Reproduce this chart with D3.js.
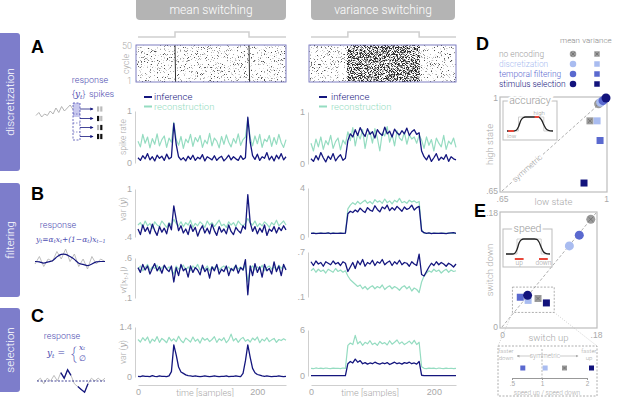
<!DOCTYPE html>
<html>
<head>
<meta charset="utf-8">
<script src="https://cdn.jsdelivr.net/npm/d3@7/dist/d3.min.js"></script>
<style>
  body { margin: 0; background: #fff; }
  svg { font-family: Roboto, "Liberation Sans", Arial, sans-serif; font-weight: 300; }
</style>
</head>
<body>
<svg id="fig" width="617" height="397"></svg>
<script>
/* global d3 */

// ---------- data ----------
var rowLabels = ["discretization", "filtering", "selection"];
var colTitles = ["mean switching", "variance switching"];
var seriesNames = ["inference", "reconstruction"];
var encNames = ["no encoding", "discretization", "temporal filtering", "stimulus selection"];

var tStep = 4; // samples between stored points

// stimulus (top trace) - switch times
var stimMeanT = [0, 62, 62, 186, 186, 248];
var stimMeanV = [0, 0, 1, 1, 0, 0];
var stimVarT = [0, 60, 60, 176, 176, 236];
var stimVarV = [0, 0, 1, 1, 0, 0];

// A: spike rate
var aMeanInf = [0.10,0.05,0.14,0.08,0.18,0.06,0.12,0.04,0.15,0.09,0.13,0.05,0.17,0.08,0.11,0.76,0.36,0.12,0.06,0.10,0.04,0.13,0.07,0.15,0.05,0.11,0.08,0.16,0.04,0.12,0.09,0.06,0.14,0.05,0.10,0.13,0.04,0.09,0.15,0.06,0.12,0.08,0.05,0.14,0.07,0.10,0.88,0.40,0.14,0.07,0.17,0.05,0.12,0.09,0.20,0.06,0.13,0.04,0.15,0.08,0.18,0.06,0.12];
var aMeanRec = [0.42,0.31,0.55,0.38,0.50,0.29,0.47,0.36,0.56,0.33,0.45,0.52,0.30,0.48,0.40,0.78,0.45,0.34,0.51,0.28,0.46,0.39,0.55,0.32,0.49,0.41,0.53,0.30,0.44,0.37,0.57,0.33,0.48,0.42,0.29,0.51,0.36,0.54,0.40,0.31,0.47,0.38,0.56,0.34,0.45,0.50,0.86,0.48,0.33,0.52,0.37,0.55,0.30,0.46,0.41,0.53,0.32,0.49,0.36,0.55,0.39,0.30,0.45];
var aVarInf = [0.10,0.05,0.16,0.08,0.22,0.12,0.04,0.15,0.09,0.20,0.06,0.13,0.18,0.07,0.11,0.45,0.58,0.52,0.66,0.55,0.70,0.60,0.53,0.68,0.57,0.62,0.50,0.66,0.59,0.55,0.71,0.58,0.63,0.52,0.67,0.60,0.56,0.64,0.58,0.69,0.55,0.62,0.66,0.57,0.60,0.25,0.14,0.08,0.17,0.05,0.12,0.20,0.07,0.13,0.09,0.18,0.05,0.14,0.10,0.08];
var aVarRec = [0.40,0.25,0.48,0.33,0.52,0.28,0.45,0.37,0.55,0.30,0.43,0.50,0.27,0.46,0.38,0.62,0.45,0.70,0.35,0.58,0.48,0.66,0.30,0.55,0.62,0.40,0.68,0.50,0.25,0.60,0.54,0.72,0.42,0.57,0.35,0.64,0.50,0.45,0.61,0.38,0.56,0.48,0.52,0.40,0.55,0.46,0.30,0.52,0.36,0.47,0.25,0.50,0.40,0.33,0.55,0.28,0.44,0.38,0.50,0.32];

// B: filtering
var bMeanTopInf = [0.50,0.43,0.55,0.47,0.52,0.44,0.56,0.48,0.42,0.53,0.46,0.51,0.44,0.57,0.49,0.79,0.62,0.48,0.54,0.45,0.50,0.43,0.55,0.47,0.52,0.41,0.49,0.54,0.45,0.51,0.44,0.56,0.48,0.42,0.53,0.46,0.50,0.44,0.55,0.47,0.43,0.52,0.48,0.45,0.54,0.50,0.93,0.58,0.47,0.53,0.44,0.51,0.46,0.55,0.42,0.50,0.47,0.53,0.45,0.52,0.48,0.54,0.49];
var bMeanTopRec = [0.55,0.58,0.52,0.60,0.54,0.57,0.51,0.59,0.55,0.53,0.60,0.56,0.52,0.58,0.55,0.62,0.57,0.54,0.59,0.53,0.58,0.55,0.61,0.52,0.57,0.54,0.59,0.56,0.52,0.60,0.55,0.58,0.53,0.57,0.61,0.54,0.56,0.52,0.59,0.55,0.58,0.53,0.60,0.56,0.54,0.57,0.63,0.58,0.55,0.60,0.53,0.57,0.54,0.59,0.56,0.52,0.58,0.55,0.61,0.54,0.57,0.60,0.55];
var bMeanBotInf = [0.48,0.42,0.52,0.45,0.50,0.40,0.47,0.53,0.44,0.49,0.41,0.51,0.46,0.43,0.50,0.30,0.48,0.38,0.52,0.44,0.47,0.36,0.50,0.42,0.48,0.45,0.39,0.51,0.43,0.47,0.35,0.49,0.44,0.52,0.40,0.46,0.43,0.50,0.38,0.47,0.44,0.51,0.41,0.48,0.45,0.58,0.14,0.50,0.38,0.53,0.42,0.49,0.36,0.52,0.44,0.47,0.40,0.55,0.43,0.50,0.38,0.52,0.45];
var bMeanBotRec = [0.46,0.50,0.44,0.48,0.52,0.45,0.49,0.47,0.51,0.44,0.48,0.50,0.46,0.49,0.45,0.40,0.50,0.46,0.48,0.51,0.45,0.49,0.44,0.50,0.47,0.52,0.45,0.48,0.46,0.50,0.44,0.49,0.47,0.51,0.45,0.48,0.50,0.46,0.49,0.44,0.47,0.51,0.46,0.49,0.45,0.52,0.30,0.47,0.50,0.45,0.49,0.46,0.51,0.44,0.48,0.50,0.46,0.49,0.45,0.51,0.47,0.50,0.46];
var bVarTopInf = [0.30,0.32,0.28,0.30,0.31,0.29,0.30,0.33,0.28,0.31,0.30,0.29,0.32,0.30,0.31,1.90,2.10,2.00,2.20,2.05,2.35,2.15,2.00,2.40,2.20,2.10,2.55,2.25,2.05,2.45,2.30,2.60,2.15,2.40,2.20,2.50,2.30,2.10,2.45,2.25,2.35,2.60,2.20,2.40,2.50,0.50,0.35,0.30,0.33,0.28,0.31,0.30,0.29,0.32,0.30,0.28,0.31,0.33,0.35,0.30];
var bVarTopRec = [0.30,0.31,0.29,0.30,0.32,0.30,0.29,0.31,0.30,0.32,0.29,0.30,0.31,0.30,0.30,2.30,2.60,2.80,2.65,2.90,2.70,2.85,3.00,2.75,2.90,2.70,3.05,2.85,2.95,2.75,3.10,2.80,2.95,2.70,3.00,2.85,3.15,2.80,2.90,2.75,3.00,2.85,2.95,2.80,2.90,0.60,0.32,0.30,0.31,0.29,0.30,0.32,0.30,0.29,0.31,0.30,0.32,0.29,0.31,0.30];
var bVarBotInf = [0.57,0.52,0.58,0.54,0.56,0.51,0.57,0.55,0.53,0.58,0.54,0.56,0.52,0.57,0.55,0.44,0.50,0.56,0.48,0.58,0.53,0.60,0.51,0.56,0.54,0.59,0.52,0.57,0.55,0.60,0.53,0.56,0.58,0.52,0.57,0.54,0.59,0.53,0.56,0.55,0.51,0.57,0.54,0.52,0.67,0.40,0.38,0.44,0.50,0.55,0.52,0.57,0.53,0.56,0.54,0.51,0.55,0.53,0.50,0.54];
var bVarBotRec = [0.45,0.48,0.43,0.47,0.44,0.46,0.42,0.47,0.45,0.43,0.48,0.44,0.46,0.43,0.45,0.38,0.33,0.30,0.27,0.24,0.26,0.21,0.24,0.20,0.23,0.25,0.21,0.24,0.22,0.26,0.20,0.23,0.25,0.21,0.24,0.22,0.19,0.23,0.25,0.21,0.24,0.18,0.22,0.20,0.16,0.30,0.38,0.42,0.45,0.43,0.47,0.44,0.46,0.42,0.45,0.47,0.43,0.46,0.44,0.45];

// C: selection
var cMeanInf = [0.02,0.01,0.03,0.02,0.02,0.01,0.04,0.02,0.01,0.03,0.02,0.02,0.01,0.03,0.15,0.90,0.62,0.28,0.14,0.10,0.06,0.04,0.03,0.02,0.03,0.02,0.01,0.02,0.03,0.02,0.01,0.02,0.03,0.02,0.01,0.02,0.02,0.03,0.01,0.02,0.02,0.03,0.02,0.01,0.10,0.45,0.90,0.55,0.24,0.12,0.07,0.05,0.03,0.02,0.03,0.02,0.01,0.02,0.02,0.03,0.02,0.01,0.02];
var cMeanRec = [1.05,0.98,1.10,1.02,1.12,0.95,1.06,1.00,1.13,0.97,1.08,1.03,0.96,1.11,1.01,1.07,0.99,1.14,1.02,0.96,1.09,1.04,0.98,1.12,1.00,1.06,0.95,1.10,1.03,1.08,0.99,1.05,1.13,0.97,1.07,1.02,1.10,0.96,1.04,1.20,1.01,1.08,0.97,1.06,1.11,1.00,1.05,0.98,1.09,1.03,1.12,0.96,1.06,1.01,1.10,0.99,1.04,1.08,0.97,1.05,1.02,1.07,1.03];
var cVarInf = [0.05,0.04,0.06,0.05,0.04,0.05,0.06,0.04,0.05,0.05,0.04,0.06,0.05,0.04,0.05,1.60,1.90,1.70,2.20,1.80,2.00,1.60,1.75,1.55,1.70,1.60,1.80,1.65,1.55,1.70,1.60,1.75,1.50,1.65,1.80,1.60,1.70,1.55,1.75,1.65,1.80,1.60,1.70,1.55,1.90,0.10,0.06,0.05,0.04,0.05,0.06,0.05,0.04,0.05,0.05,0.06,0.04,0.05,0.05,0.04];
var cVarRec = [1.00,0.95,1.05,0.98,1.02,0.96,1.04,1.00,0.97,1.03,0.99,1.01,0.96,1.04,1.00,4.00,4.30,4.10,5.30,4.20,4.50,4.00,4.40,4.20,4.60,4.10,4.30,4.00,4.50,4.20,4.35,4.05,4.60,4.15,4.40,4.70,4.20,4.45,4.10,4.30,4.55,4.20,4.65,4.10,4.40,1.20,1.00,0.96,1.03,0.99,1.02,0.95,1.04,1.00,0.97,1.03,0.98,1.01,0.96,1.00];

// D: accuracy (low state, high state), order = encNames
var accMeanLow = [0.975, 0.982, 0.99, 1.0];
var accMeanHigh = [0.978, 0.984, 0.99, 1.0];
var accVarLow = [0.946, 0.97, 0.98, 0.926];
var accVarHigh = [0.914, 0.914, 0.84, 0.68];

// E: speed (switch up, switch down)
var spdMeanUp = [0.170, 0.129, 0.148, 0.049];
var spdMeanDown = [0.170, 0.128, 0.145, 0.050];
var spdVarUp = [0.069, 0.050, 0.035, 0.085];
var spdVarDown = [0.045, 0.042, 0.047, 0.038];
var spdVarRatio = [1.50, 1.07, 0.68, 2.10];

// schematic traces (arbitrary units)
var schemA = [3, 5, 2, 4, 3, 6, 4, 8, 5, 9, 6, 8, 10, 7];
var schemBStim = [4, 7, 3, 6, 5, 9, 6, 10, 5, 8, 3, 6, 2, 7, 4, 6, 5];
var schemBResp = [5, 5, 4, 5, 5, 7, 8, 8, 7, 6, 4, 4, 3, 4, 5, 5, 5];
var schemCStim = [5, 6, 4, 6, 5, 7, 5, 8, 6, 9, 7, 4, 3, 2, 1, 4, 6, 5, 6, 5, 6];
var schemCSel = [null, null, null, null, null, null, null, 8, 6, 9, 7, null, 3, 2, 1, 4, null, null, null, null, null];
var spikeCodes = ["00", "10", "01", "11"];
var insetCurve = [0, 0, 0, 0, 0.05, 0.3, 0.75, 0.95, 1, 1, 1, 1, 1, 1, 0.97, 0.8, 0.45, 0.15, 0.04, 0.01, 0];
var insetStep = [0, 0, 0, 0, 0, 1, 1, 1, 1, 1, 1, 1, 1, 1, 1, 1, 0, 0, 0, 0, 0];

// ---------- style ----------
var NAVY = "#14167e", MINT = "#95dcc1", PURPLE = "#7d7dcb", TICK = "#a8a8a8", AXIS = "#cfcfcf";
var encColors = ["#9b9b9b", "#a9bcf0", "#5a69cf", "#12137c"];
var MATH = "'DejaVu Serif', 'Liberation Serif', serif";

var svg = d3.select("#fig");
var defs = svg.append("defs");

function speckle(id, cut, seed, grey) {
    var f = defs.append("filter").attr("id", id)
        .attr("x", 0).attr("y", 0).attr("width", 1).attr("height", 1)
        .attr("color-interpolation-filters", "sRGB");
    f.append("feTurbulence").attr("type", "fractalNoise").attr("baseFrequency", "1.3")
        .attr("numOctaves", 1).attr("seed", seed).attr("result", "n");
    f.append("feColorMatrix").attr("in", "n").attr("type", "matrix")
        .attr("values", "0 0 0 0 " + grey + "  0 0 0 0 " + grey + "  0 0 0 0 " + grey + "  1 0 0 0 0");
    f.append("feComponentTransfer").append("feFuncA")
        .attr("type", "linear").attr("slope", 8).attr("intercept", -8 * cut);
}
speckle("sparse", 0.6, 3, 0.3);
speckle("dense", 0.47, 7, 0.15);

defs.append("marker").attr("id", "arr").attr("viewBox", "0 0 6 6").attr("refX", 5).attr("refY", 3)
    .attr("markerWidth", 4).attr("markerHeight", 4).attr("orient", "auto")
    .append("path").attr("d", "M0,0L6,3L0,6Z").attr("fill", NAVY);
defs.append("marker").attr("id", "arrg").attr("viewBox", "0 0 6 6").attr("refX", 5).attr("refY", 3)
    .attr("markerWidth", 5).attr("markerHeight", 5).attr("orient", "auto")
    .append("path").attr("d", "M0,0L6,3L0,6Z").attr("fill", "#aaa");

// ---------- row bands & headers ----------
var bands = [[33, 171], [183, 297], [308, 392]];
bands.forEach(function (b, i) {
    svg.append("rect").attr("x", -4).attr("y", b[0]).attr("width", 24).attr("height", b[1] - b[0])
        .attr("rx", 3).attr("fill", PURPLE);
    svg.append("text")
        .attr("transform", "translate(14," + ((b[0] + b[1]) / 2) + ")rotate(-90)")
        .attr("text-anchor", "middle").attr("fill", "#fff").attr("font-size", 11.5)
        .text(rowLabels[i]);
});

[[136, 150], [311, 144]].forEach(function (h, i) {
    svg.append("rect").attr("x", h[0]).attr("y", -5).attr("width", h[1]).attr("height", 25)
        .attr("rx", 4).attr("fill", "#b4b4b4");
    svg.append("text").attr("x", h[0] + h[1] / 2).attr("y", 14).attr("text-anchor", "middle")
        .attr("fill", "#fff").attr("font-size", 12).text(colTitles[i]);
});

// panel letters
[["A", 31, 53], ["B", 31, 200], ["C", 31, 322], ["D", 476, 50], ["E", 474, 217]].forEach(function (l) {
    svg.append("text").attr("x", l[1]).attr("y", l[2]).attr("font-family", "'Liberation Sans', Arial")
        .attr("font-weight", 700).attr("font-size", 18).attr("fill", "#000").text(l[0]);
});

// ---------- time scales ----------
var xMean = d3.scaleLinear().domain([0, 248]).range([138, 286]);
var xVar = d3.scaleLinear().domain([0, 236]).range([311, 456]);
function fmtTick(d) { return String(d).replace(/^0\./, "."); }

// ---------- rasters ----------
function raster(x, stT, stV, dense, bursts) {
    var y0 = 45, y1 = 82;
    var r0 = x.range()[0] - 2, r1 = x.range()[1];
    var ys = d3.scaleLinear().domain([0, 1]).range([37, 32]);
    svg.append("path").datum(stT)
        .attr("d", d3.line().x(function (d) { return x(d); }).y(function (d, i) { return ys(stV[i]); }))
        .attr("fill", "none").attr("stroke", "#cfcfcf").attr("stroke-width", 1.5);
    svg.append("rect").attr("x", r0).attr("y", y0).attr("width", r1 - r0).attr("height", y1 - y0)
        .attr("fill", "#000").attr("filter", "url(#sparse)");
    if (dense) {
        svg.append("rect").attr("x", x(stT[1])).attr("y", y0).attr("width", x(stT[3]) - x(stT[1]))
            .attr("height", y1 - y0).attr("fill", "#000").attr("filter", "url(#dense)");
    }
    if (bursts) {
        [stT[1], stT[3]].forEach(function (t) {
            svg.append("line").attr("x1", x(t)).attr("x2", x(t) + 0.6).attr("y1", y0).attr("y2", y1)
                .attr("stroke", "#333").attr("stroke-width", 1);
        });
    }
    svg.append("rect").attr("x", r0).attr("y", y0).attr("width", r1 - r0).attr("height", y1 - y0)
        .attr("fill", "none").attr("stroke", "#7070bb").attr("stroke-width", 0.9);
}
raster(xMean, stimMeanT, stimMeanV, false, true);
raster(xVar, stimVarT, stimVarV, true, false);

// raster axis labels (mean only)
svg.append("text").attr("x", 132).attr("y", 49).attr("text-anchor", "end").attr("font-size", 9).attr("fill", TICK).text("50");
svg.append("text").attr("x", 132).attr("y", 84).attr("text-anchor", "end").attr("font-size", 9).attr("fill", TICK).text("1");
svg.append("text").attr("transform", "translate(129,64)rotate(-90)").attr("text-anchor", "middle")
    .attr("font-size", 9).attr("fill", TICK).text("cycle");

// ---------- legends ----------
[[144, 154], [319, 331]].forEach(function (p) {
    [NAVY, MINT].forEach(function (c, i) {
        var y = 97 + i * 9.5;
        svg.append("line").attr("x1", p[0]).attr("x2", p[0] + 8).attr("y1", y).attr("y2", y)
            .attr("stroke", c).attr("stroke-width", 2);
        svg.append("text").attr("x", p[1]).attr("y", y + 3).attr("font-size", 9.5).attr("fill", c)
            .text(seriesNames[i]);
    });
});

// ---------- time-series panels ----------
function tsPanel(o) {
    var y = d3.scaleLinear().domain(o.dom).range(o.rng);
    var axX = o.x === xMean ? 135 : 308;
    var ax = svg.append("g").attr("transform", "translate(" + axX + ",0)")
        .call(d3.axisLeft(y).tickValues(o.dom).tickSize(0).tickSizeOuter(0).tickPadding(3).tickFormat(fmtTick));
    ax.select(".domain").attr("stroke", AXIS);
    ax.selectAll("text").attr("fill", TICK).attr("font-size", 9).attr("font-family", null);
    var line = d3.line().x(function (d, i) { return o.x(i * tStep); }).y(function (d) { return y(d); });
    svg.append("path").datum(o.rec).attr("d", line).attr("fill", "none")
        .attr("stroke", MINT).attr("stroke-width", 1.2).attr("stroke-linejoin", "round");
    svg.append("path").datum(o.inf).attr("d", line).attr("fill", "none")
        .attr("stroke", NAVY).attr("stroke-width", 1.3).attr("stroke-linejoin", "round");
    if (o.label) {
        var cy = o.labelY || (o.rng[0] + o.rng[1]) / 2;
        var t = svg.append("text")
            .attr("transform", "translate(126," + cy + ")rotate(-90)")
            .attr("text-anchor", "middle").attr("font-size", 8.5).attr("fill", TICK);
        o.label(t);
    }
}
function plainLabel(s) { return function (t) { t.text(s); }; }
function varY(t) {
    t.append("tspan").text("var (");
    t.append("tspan").attr("font-family", MATH).attr("font-style", "italic").text("y");
    t.append("tspan").text(")");
}
function vLabel(t) {
    t.attr("font-size", 7.5);
    t.append("tspan").attr("font-family", MATH).attr("font-style", "italic").text("v(|x");
    t.append("tspan").attr("font-family", MATH).attr("font-style", "italic").attr("font-size", 5.5)
        .attr("baseline-shift", "-25%").text("t-1");
    t.append("tspan").attr("font-family", MATH).attr("font-style", "italic").text("|)");
}

tsPanel({ x: xMean, dom: [0, 1], rng: [163, 111], inf: aMeanInf, rec: aMeanRec, label: plainLabel("spike rate") });
tsPanel({ x: xVar, dom: [0, 1], rng: [164, 112], inf: aVarInf, rec: aVarRec });
tsPanel({ x: xMean, dom: [0.4, 1], rng: [237, 189], inf: bMeanTopInf, rec: bMeanTopRec, label: varY, labelY: 209 });
tsPanel({ x: xMean, dom: [0.1, 0.6], rng: [298, 258], inf: bMeanBotInf, rec: bMeanBotRec, label: vLabel, labelY: 280 });
tsPanel({ x: xVar, dom: [0, 4], rng: [237, 188], inf: bVarTopInf, rec: bVarTopRec });
tsPanel({ x: xVar, dom: [0.1, 0.7], rng: [297, 252], inf: bVarBotInf, rec: bVarBotRec });
tsPanel({ x: xMean, dom: [0, 1.4], rng: [377, 327], inf: cMeanInf, rec: cMeanRec, label: varY });
tsPanel({ x: xVar, dom: [0, 6], rng: [376, 330], inf: cVarInf, rec: cVarRec });

// time axes
[[xMean, 205], [xVar, 370]].forEach(function (p) {
    var ax = svg.append("g").attr("transform", "translate(0,385)")
        .call(d3.axisBottom(p[0]).tickValues([0, 200]).tickSize(0).tickSizeOuter(0).tickPadding(4));
    ax.select(".domain").attr("stroke", AXIS);
    ax.selectAll("text").attr("fill", TICK).attr("font-size", 9).attr("font-family", null);
    svg.append("text").attr("x", p[1]).attr("y", 395.5).attr("text-anchor", "middle")
        .attr("font-size", 9).attr("fill", TICK).text("time [samples]");
});

// ---------- schematic A ----------
var RESP = "#4b4bb0";
svg.append("text").attr("x", 90).attr("y", 83).attr("text-anchor", "middle").attr("font-size", 9).attr("fill", RESP).text("response");
var ta = svg.append("text").attr("x", 72).attr("y", 97).attr("font-size", 9).attr("fill", RESP);
ta.append("tspan").text("{");
ta.append("tspan").attr("font-family", MATH).attr("font-style", "italic").text("y");
ta.append("tspan").attr("font-family", MATH).attr("font-style", "italic").attr("font-size", 6).attr("baseline-shift", "-25%").text("t");
ta.append("tspan").text("}");
svg.append("text").attr("x", 89).attr("y", 97).attr("font-size", 9).attr("fill", RESP).text("spikes");

var sax = d3.scaleLinear().domain([0, schemA.length - 1]).range([36, 73]);
var say = d3.scaleLinear().domain([0, 12]).range([120, 102]);
svg.append("path").datum(schemA).attr("fill", "none").attr("stroke", "#aaa").attr("stroke-width", 0.9)
    .attr("d", d3.line().x(function (d, i) { return sax(i); }).y(say));
svg.append("rect").attr("x", 73).attr("y", 103).attr("width", 7).attr("height", 14).attr("fill", "#c9c9ee");
svg.append("rect").attr("x", 73).attr("y", 103).attr("width", 7).attr("height", 37).attr("fill", "none")
    .attr("stroke", RESP).attr("stroke-width", 0.8).attr("stroke-dasharray", "2,1.5");
spikeCodes.forEach(function (code, i) {
    var ry = [109, 118.5, 127.5, 136.5][i];
    if (i > 0) {
        svg.append("line").attr("x1", 73).attr("x2", 80).attr("y1", ry - 4.5).attr("y2", ry - 4.5)
            .attr("stroke", RESP).attr("stroke-width", 0.6).attr("stroke-dasharray", "1.5,1.5");
    }
    svg.append("line").attr("x1", 80).attr("x2", 93).attr("y1", ry).attr("y2", ry)
        .attr("stroke", NAVY).attr("stroke-width", 0.8).attr("marker-end", "url(#arr)");
    code.split("").forEach(function (c, j) {
        svg.append("rect").attr("x", 97 + j * 3.2).attr("y", ry - 2.6).attr("width", 2.2).attr("height", 5.2)
            .attr("fill", c === "1" ? "#111" : "#bbb");
    });
});

// ---------- schematic B ----------
svg.append("text").attr("x", 58).attr("y", 228).attr("text-anchor", "middle").attr("font-size", 9).attr("fill", RESP).text("response");
var tb = svg.append("text").attr("x", 36).attr("y", 242).attr("font-size", 7.5).attr("fill", RESP)
    .attr("font-family", MATH).attr("font-style", "italic");
[["y", 0], ["t", 1], ["=α", 0], ["t", 1], ["x", 0], ["t", 1], ["+(1−α", 0], ["t", 1], [")x", 0], ["t−1", 1]].forEach(function (p) {
    var s = tb.append("tspan").text(p[0]);
    if (p[1]) s.attr("font-size", 5).attr("baseline-shift", "-25%");
});
var sbx = d3.scaleLinear().domain([0, schemBStim.length - 1]).range([35, 105]);
var sby = d3.scaleLinear().domain([0, 10]).range([274, 249]);
var lb = d3.line().x(function (d, i) { return sbx(i); }).y(sby);
svg.append("path").datum(schemBStim).attr("d", lb).attr("fill", "none").attr("stroke", "#b5b5b5").attr("stroke-width", 0.9);
svg.append("path").datum(schemBResp).attr("d", lb.curve(d3.curveBasis)).attr("fill", "none").attr("stroke", NAVY).attr("stroke-width", 1.2);

// ---------- schematic C ----------
svg.append("text").attr("x", 62).attr("y", 339).attr("text-anchor", "middle").attr("font-size", 9).attr("fill", RESP).text("response");
var tc = svg.append("text").attr("x", 47).attr("y", 356).attr("font-size", 9).attr("fill", RESP)
    .attr("font-family", MATH).attr("font-style", "italic");
tc.append("tspan").text("y");
tc.append("tspan").attr("font-size", 6).attr("baseline-shift", "-25%").text("t");
tc.append("tspan").attr("font-style", "normal").text(" = ");
svg.append("text").attr("x", 71).attr("y", 358.5).attr("font-size", 17).attr("font-weight", 200).attr("fill", RESP).text("{");
svg.append("text").attr("x", 79).attr("y", 350).attr("font-size", 7.5).attr("fill", RESP)
    .attr("font-family", MATH).attr("font-style", "italic").text("xₜ");
svg.append("text").attr("x", 79).attr("y", 361).attr("font-size", 7.5).attr("fill", RESP)
    .attr("font-family", MATH).text("∅");
var scx = d3.scaleLinear().domain([0, schemCStim.length - 1]).range([37, 105]);
var scy = d3.scaleLinear().domain([0, 10]).range([395, 367]);
svg.append("path").datum(schemCStim).attr("fill", "none").attr("stroke", "#b5b5b5").attr("stroke-width", 0.9)
    .attr("d", d3.line().x(function (d, i) { return scx(i); }).y(scy));
svg.append("line").attr("x1", scx(0)).attr("x2", scx(schemCStim.length - 1)).attr("y1", scy(5)).attr("y2", scy(5))
    .attr("stroke", NAVY).attr("stroke-width", 0.8).attr("stroke-dasharray", "2,1.5");
svg.append("path").datum(schemCSel).attr("fill", "none").attr("stroke", NAVY).attr("stroke-width", 1.3)
    .attr("d", d3.line().defined(function (d) { return d !== null; }).x(function (d, i) { return scx(i); }).y(scy));

// ---------- markers ----------
function marker(g, shape, x, y, i, size) {
    if (shape === "c") {
        g.append("circle").attr("cx", x).attr("cy", y).attr("r", size / 2).attr("fill", encColors[i]);
    } else {
        g.append("rect").attr("x", x - size / 2).attr("y", y - size / 2).attr("width", size).attr("height", size)
            .attr("fill", encColors[i]);
    }
    if (i === 0 && (shape === "s" || size > 6)) {
        var k = size * 0.28;
        g.append("path").attr("d", "M" + (x - k) + "," + (y - k) + "L" + (x + k) + "," + (y + k) + "M" + (x + k) + "," + (y - k) + "L" + (x - k) + "," + (y + k))
            .attr("stroke", "#666").attr("stroke-width", 0.7);
    }
}

// ---------- D legend ----------
svg.append("text").attr("x", 570).attr("y", 43).attr("text-anchor", "middle").attr("font-size", 8).attr("fill", "#888").text("mean");
svg.append("text").attr("x", 597).attr("y", 43).attr("text-anchor", "middle").attr("font-size", 8).attr("fill", "#888").text("variance");
encNames.forEach(function (n, i) {
    var y = 57 + i * 10;
    svg.append("text").attr("x", 499).attr("y", y).attr("font-size", 8.4).attr("fill", encColors[i]).text(n);
    marker(svg, "c", 573, y - 3, i, 6.5);
    marker(svg, "s", 597, y - 3, i, 5.5);
});

// ---------- D scatter ----------
function scatterFrame(x, y, ticks, xl, yl) {
    var g = svg.append("g");
    var x0 = x.range()[0] - 2, x1 = x.range()[1] + 1, y0 = y.range()[1] - 1, y1 = y.range()[0] + 1;
    g.append("rect").attr("x", x0).attr("y", y0).attr("width", x1 - x0).attr("height", y1 - y0)
        .attr("fill", "none").attr("stroke", "#bdbdbd").attr("stroke-width", 1.2);
    var ay = g.append("g").attr("transform", "translate(" + x0 + ",0)")
        .call(d3.axisLeft(y).tickValues(ticks).tickSize(0).tickPadding(2).tickFormat(fmtTick));
    var ax = g.append("g").attr("transform", "translate(0," + y1 + ")")
        .call(d3.axisBottom(x).tickValues(ticks).tickSize(0).tickPadding(4).tickFormat(fmtTick));
    [ax, ay].forEach(function (a) {
        a.select(".domain").remove();
        a.selectAll("text").attr("fill", TICK).attr("font-size", 8.5).attr("font-family", null);
    });
    g.append("text").attr("x", (x0 + x1) / 2).attr("y", y1 + 13).attr("text-anchor", "middle")
        .attr("font-size", 9.5).attr("fill", TICK).text(xl);
    g.append("text").attr("transform", "translate(" + (x0 - 7) + "," + ((y0 + y1) / 2) + ")rotate(-90)")
        .attr("text-anchor", "middle").attr("font-size", 9.5).attr("fill", TICK).text(yl);
    var d = x.domain();
    g.append("line").attr("x1", x(d[0])).attr("y1", y(d[0])).attr("x2", x(d[1])).attr("y2", y(d[1]))
        .attr("stroke", "#9a9a9a").attr("stroke-width", 0.8).attr("stroke-dasharray", "3,2");
    return g;
}
var dX = d3.scaleLinear().domain([0.65, 1]).range([502, 606]);
var dY = d3.scaleLinear().domain([0.65, 1]).range([191, 98]);
var gD = scatterFrame(dX, dY, [0.65, 1], "low state", "high state");
var ang = Math.atan2(dY(1) - dY(0.65), dX(1) - dX(0.65)) * 180 / Math.PI;
gD.append("text").attr("transform", "translate(" + dX(0.735) + "," + dY(0.735) + ")rotate(" + ang + ")")
    .attr("text-anchor", "middle").attr("dy", "0.33em").attr("font-size", 8).attr("fill", "#999")
    .attr("stroke", "#fff").attr("stroke-width", 3).attr("paint-order", "stroke").text("symmetric");

function inset(g, x0, y0, w, h, title) {
    g.append("rect").attr("x", x0).attr("y", y0).attr("width", w).attr("height", h)
        .attr("fill", "#fff").attr("stroke", "#bdbdbd").attr("stroke-width", 1);
    g.append("text").attr("x", x0 + w / 2).attr("y", y0 + 3).attr("text-anchor", "middle")
        .attr("font-size", 10.5).attr("fill", "#999").attr("stroke", "#fff").attr("stroke-width", 4)
        .attr("paint-order", "stroke").text(title);
}
inset(gD, 503, 101, 54, 39, "accuracy");
var ix = d3.scaleLinear().domain([0, 20]).range([507, 553]);
var iy = d3.scaleLinear().domain([0, 1]).range([131, 117]);
gD.append("path").datum(insetStep).attr("fill", "none").attr("stroke", "#cfcfcf").attr("stroke-width", 1)
    .attr("d", d3.line().x(function (d, i) { return ix(i); }).y(iy).curve(d3.curveStepAfter));
gD.append("path").datum(insetCurve).attr("fill", "none").attr("stroke", "#222").attr("stroke-width", 1.3)
    .attr("d", d3.line().x(function (d, i) { return ix(i); }).y(iy).curve(d3.curveMonotoneX));
gD.append("line").attr("x1", ix(0.5)).attr("x2", ix(3)).attr("y1", iy(0)).attr("y2", iy(0)).attr("stroke", "#e8473a").attr("stroke-width", 2);
gD.append("line").attr("x1", ix(12)).attr("x2", ix(14)).attr("y1", iy(1)).attr("y2", iy(1)).attr("stroke", "#e8473a").attr("stroke-width", 2);
gD.append("text").attr("x", ix(14)).attr("y", iy(1) - 2.2).attr("text-anchor", "middle").attr("font-size", 6).attr("fill", "#999").text("high");
gD.append("text").attr("x", ix(2)).attr("y", iy(0) + 7).attr("text-anchor", "middle").attr("font-size", 6).attr("fill", "#999").text("low");

encNames.forEach(function (n, i) { marker(gD, "s", dX(accVarLow[i]), dY(accVarHigh[i]), i, 7); });
encNames.forEach(function (n, i) { marker(gD, "c", dX(accMeanLow[i]), dY(accMeanHigh[i]), i, 9); });

// ---------- E scatter ----------
var eX = d3.scaleLinear().domain([0, 0.18]).range([502, 596]);
var eY = d3.scaleLinear().domain([0, 0.18]).range([327, 213]);
var gE = scatterFrame(eX, eY, [0, 0.18], "switch up", "switch down");
inset(gE, 503, 229, 49, 38, "speed");
var sx = d3.scaleLinear().domain([0, 20]).range([506, 550]);
var sy = d3.scaleLinear().domain([0, 1]).range([254, 239]);
gE.append("path").datum(insetStep).attr("fill", "none").attr("stroke", "#cfcfcf").attr("stroke-width", 1)
    .attr("d", d3.line().x(function (d, i) { return sx(i); }).y(sy).curve(d3.curveStepAfter));
gE.append("path").datum(insetCurve).attr("fill", "none").attr("stroke", "#222").attr("stroke-width", 1.3)
    .attr("d", d3.line().x(function (d, i) { return sx(i); }).y(sy).curve(d3.curveMonotoneX));
[[4, 8, "up"], [15, 19, "down"]].forEach(function (r) {
    gE.append("line").attr("x1", sx(r[0])).attr("x2", sx(r[1])).attr("y1", 259).attr("y2", 259).attr("stroke", "#e8473a").attr("stroke-width", 2);
    gE.append("text").attr("x", sx((r[0] + r[1]) / 2)).attr("y", 265).attr("text-anchor", "middle").attr("font-size", 6.5).attr("fill", "#999").text(r[2]);
});
// cluster box and projection
var cb = [eX(0.02), eY(0.063), eX(0.1), eY(0.023)];
gE.append("rect").attr("x", cb[0]).attr("y", cb[1]).attr("width", cb[2] - cb[0]).attr("height", cb[3] - cb[1])
    .attr("fill", "none").attr("stroke", "#999").attr("stroke-width", 0.8).attr("stroke-dasharray", "2,1.5");
var lb2 = [498, 346, 597, 396];
gE.append("path").attr("d", "M" + cb[0] + "," + cb[3] + "L" + lb2[0] + "," + lb2[1] + "M" + cb[2] + "," + cb[3] + "L" + lb2[2] + "," + lb2[1])
    .attr("stroke", "#bbb").attr("stroke-width", 0.7).attr("stroke-dasharray", "1,1.5");
gE.append("rect").attr("x", lb2[0]).attr("y", lb2[1]).attr("width", lb2[2] - lb2[0]).attr("height", lb2[3] - lb2[1])
    .attr("fill", "none").attr("stroke", "#999").attr("stroke-width", 0.8).attr("stroke-dasharray", "2,1.5");
encNames.forEach(function (n, i) { marker(gE, "s", eX(spdVarUp[i]), eY(spdVarDown[i]), i, 7); });
encNames.forEach(function (n, i) { marker(gE, "c", eX(spdMeanUp[i]), eY(spdMeanDown[i]), i, 9); });

// ratio strip
var rX = d3.scaleLinear().domain([0.5, 1, 2]).range([512, 542, 587]);
var ra = gE.append("g").attr("transform", "translate(0,378)")
    .call(d3.axisBottom(rX).tickValues([0.5, 1, 2]).tickSize(2).tickSizeOuter(0).tickPadding(1).tickFormat(fmtTick));
ra.select(".domain").attr("stroke", "#999");
ra.selectAll("line").attr("stroke", "#999");
ra.selectAll("text").attr("fill", TICK).attr("font-size", 6.5).attr("font-family", null);
gE.append("line").attr("x1", rX(1)).attr("x2", rX(1)).attr("y1", 349).attr("y2", 378)
    .attr("stroke", "#999").attr("stroke-width", 0.7).attr("stroke-dasharray", "2,1.5");
encNames.forEach(function (n, i) { marker(gE, "s", rX(spdVarRatio[i]), 368, i, 5); });
gE.append("text").attr("x", 547).attr("y", 394.5).attr("text-anchor", "middle").attr("font-size", 6.5).attr("fill", TICK).text("speed up / speed down");
[["faster", 506, 353], ["down", 506, 360], ["faster", 589, 353], ["up", 589, 360]].forEach(function (t) {
    gE.append("text").attr("x", t[1]).attr("y", t[2]).attr("text-anchor", "middle").attr("font-size", 6).attr("fill", TICK).text(t[0]);
});
gE.append("text").attr("x", 545).attr("y", 358).attr("text-anchor", "middle").attr("font-size", 6.5).attr("fill", TICK).text("symmetric");
gE.append("line").attr("x1", 531).attr("x2", 517).attr("y1", 356).attr("y2", 356).attr("stroke", "#aaa").attr("stroke-width", 0.6).attr("marker-end", "url(#arrg)");
gE.append("line").attr("x1", 560).attr("x2", 578).attr("y1", 356).attr("y2", 356).attr("stroke", "#aaa").attr("stroke-width", 0.6).attr("marker-end", "url(#arrg)");
</script>
</body>
</html>
